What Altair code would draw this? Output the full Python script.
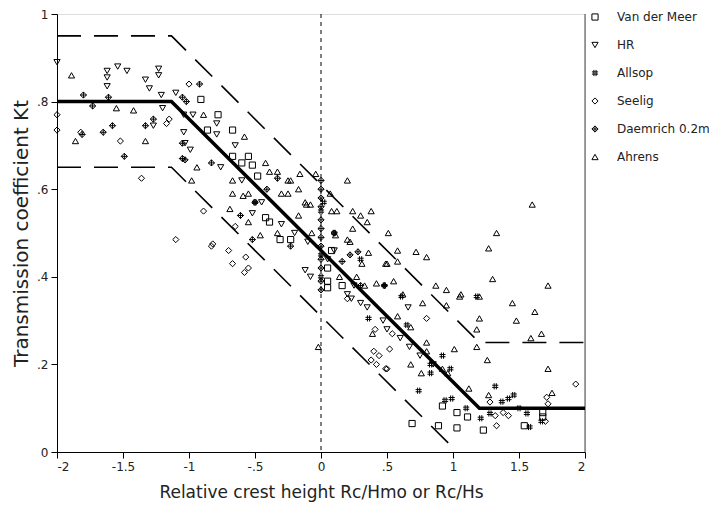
import altair as alt
import pandas as pd

series_names = ["Van der Meer", "HR", "Allsop", "Seelig", "Daemrich 0.2m", "Ahrens"]
series_shapes = [
    "square",
    "triangle-down",
    "M-0.35,-1L-0.35,1M0.35,-1L0.35,1M-1,-0.35L1,-0.35M-1,0.35L1,0.35",
    "diamond",
    "M0,-1L1,0L0,1L-1,0ZM-1,0L1,0M0,-1L0,1",
    "triangle-up",
]

vdm_x = [-0.91, -0.78, -0.86, -0.67, -0.67, -0.55, -0.60, -0.52, -0.48, -0.42, -0.39, -0.31, -0.23,
         0.05, 0.05, 0.05, 0.16, 0.08, 0.92, 1.03, 1.11, 0.89, 1.03, 1.23, 1.54, 1.68, 1.68, 0.69]
vdm_y = [0.805, 0.77, 0.735, 0.735, 0.675, 0.675, 0.66, 0.655, 0.63, 0.535, 0.525, 0.485, 0.485,
         0.42, 0.39, 0.375, 0.38, 0.46, 0.105, 0.09, 0.08, 0.06, 0.055, 0.05, 0.06, 0.09, 0.08, 0.065]

hr_x = [-2.0, -1.62, -1.62, -1.62, -1.54, -1.23, -1.23, -1.33, -1.30, -1.21, -1.20, -1.27, -1.04, -0.97,
        -0.79, -0.79, -1.04, -1.03, -0.99, -0.76, -0.65, -0.52, -0.12, -0.08, 0.20, 0.23, 0.66, 0.47,
        0.67, -0.45, -0.30, -0.20, -0.10, 0.05, 0.25, 0.30, 0.35, 0.50, 0.60, 0.75, 0.85, -1.47, -1.10,
        0.10, -0.60]
hr_y = [0.89, 0.87, 0.855, 0.835, 0.88, 0.875, 0.86, 0.85, 0.83, 0.815, 0.785, 0.745, 0.77, 0.77,
        0.75, 0.725, 0.73, 0.705, 0.69, 0.65, 0.70, 0.545, 0.415, 0.40, 0.36, 0.35, 0.33, 0.30,
        0.24, 0.57, 0.52, 0.50, 0.48, 0.44, 0.38, 0.34, 0.33, 0.28, 0.26, 0.22, 0.20, 0.87, 0.82,
        0.46, 0.62]

allsop_x = [0.48, 0.61, 0.92, 0.83, 0.98, 0.83, 0.74, 0.94, 0.99, 1.32, 1.37, 1.42, 1.46, 1.21, 1.56,
            1.58, 1.67, 1.28, 1.18, 0.36, 0.65, 0.0, 0.0, 0.0, 0.02, -0.50, 0.30, 0.10, 1.10, 1.50]
allsop_y = [0.38, 0.355, 0.22, 0.20, 0.19, 0.18, 0.14, 0.118, 0.122, 0.15, 0.115, 0.122, 0.13, 0.077,
            0.088, 0.057, 0.07, 0.088, 0.355, 0.305, 0.29, 0.55, 0.45, 0.40, 0.57, 0.57, 0.44, 0.50,
            0.10, 0.10]

seelig_x = [-2.0, -2.0, -1.82, -1.52, -1.36, -1.0, -1.15, -1.17, -0.89, -0.65, -0.83, -0.70, -0.57,
            -0.55, -0.58, -0.82, -0.67, -1.10, 0.41, 0.50, 0.54, 0.52, 0.49, 0.80, 1.93, 1.28, 1.32,
            1.38, 1.42, 1.33, 1.71, 1.72, 1.70, 0.38, 0.42, 0.44, 0.40, 0.20]
seelig_y = [0.77, 0.735, 0.73, 0.71, 0.625, 0.84, 0.76, 0.75, 0.55, 0.515, 0.47, 0.46, 0.445,
            0.42, 0.41, 0.475, 0.43, 0.485, 0.28, 0.19, 0.27, 0.235, 0.19, 0.305, 0.155, 0.114, 0.083,
            0.09, 0.083, 0.06, 0.125, 0.11, 0.07, 0.21, 0.20, 0.22, 0.23, 0.35]

daem_x = [-1.80, -1.73, -1.61, -1.81, -1.65, -1.58, -1.49, -1.33, -1.27, -1.05, -1.02, -0.92, -1.05,
          -1.05, -1.03, -0.83, -0.61, -0.50, -0.41, -0.33, -0.23, -0.52, 0.28, 0.48, 0.10, 0.16, 0.22,
          0.0, 0.0, 0.0, 0.0, 0.0, 0.0, 0.0, 0.0, 0.0, 0.0, 0.0, 0.0, 0.30]
daem_y = [0.815, 0.79, 0.81, 0.725, 0.73, 0.745, 0.675, 0.745, 0.76, 0.81, 0.80, 0.84, 0.705,
          0.67, 0.667, 0.66, 0.54, 0.57, 0.60, 0.625, 0.47, 0.485, 0.457, 0.38, 0.50, 0.435, 0.45,
          0.62, 0.60, 0.58, 0.56, 0.53, 0.51, 0.49, 0.47, 0.44, 0.42, 0.39, 0.37, 0.38]

ahrens_x = [-1.89, -1.55, -1.42, -1.86, -1.33, -0.89, -0.94, -0.98, -0.58, -0.67, -0.67, -0.59, -0.69,
            -0.42, -0.39, -0.33, -0.23, -0.17, -0.16, -0.04, -0.30, -0.25, -0.11, -0.17, -0.55, -0.46,
            -0.33, -0.07, 0.20, 0.07, -0.12, -0.08, 0.08, 0.12, 0.24, 0.30, 0.38, 0.35, 0.24, 0.51,
            0.11, 0.20, 0.22, 0.36, 0.58, 0.72, 0.80, 0.49, 0.58, 0.31, 0.14, 0.27, 0.33, 0.42, 0.55,
            0.87, 0.95, 1.60, 1.33, 1.27, 1.30, 1.72, 1.06, 1.20, 1.45, 1.62, 1.48, 1.20, 1.18, 1.67,
            1.59, 1.18, 1.26, 1.72, 0.62, 0.77, 0.95, 1.05, 0.58, 0.68, 0.80, 0.80, 1.01, 0.76, 0.92,
            0.96, 1.12, 1.27, 1.75, 0.68, -0.02, 0.39, 0.50, -0.55, -0.25]
ahrens_y = [0.86, 0.785, 0.78, 0.71, 0.71, 0.77, 0.65, 0.62, 0.72, 0.62, 0.59, 0.585, 0.555,
            0.66, 0.64, 0.64, 0.62, 0.60, 0.635, 0.635, 0.59, 0.59, 0.565, 0.54, 0.525, 0.495,
            0.50, 0.50, 0.62, 0.59, 0.57, 0.565, 0.55, 0.55, 0.55, 0.54, 0.55, 0.525, 0.51, 0.50,
            0.495, 0.485, 0.48, 0.455, 0.46, 0.457, 0.445, 0.43, 0.435, 0.43, 0.40, 0.40, 0.38, 0.385, 0.39,
            0.38, 0.37, 0.565, 0.50, 0.465, 0.395, 0.38, 0.36, 0.355, 0.34, 0.32, 0.30, 0.305, 0.28, 0.27,
            0.26, 0.24, 0.21, 0.19, 0.36, 0.34, 0.335, 0.355, 0.31, 0.285, 0.25, 0.23, 0.235, 0.18, 0.19,
            0.18, 0.145, 0.13, 0.135, 0.20, 0.24, 0.27, 0.43, 0.59, 0.62]

mean_x = [-2.0, -1.133, 1.2, 2.0]
mean_y = [0.8, 0.8, 0.1, 0.1]
upper_x = [-2.0, -1.133, 1.2, 2.0]
upper_y = [0.95, 0.95, 0.25, 0.25]
lower_x = [-2.0, -1.133, 1.033]
lower_y = [0.65, 0.65, 0.0]

rows = []
for name, xs, ys in zip(series_names,
                        [vdm_x, hr_x, allsop_x, seelig_x, daem_x, ahrens_x],
                        [vdm_y, hr_y, allsop_y, seelig_y, daem_y, ahrens_y]):
    for a, b in zip(xs, ys):
        rows.append({"series": name, "rc": a, "kt": b})
pts = pd.DataFrame(rows)

FONT = "DejaVu Sans"
xscale = alt.Scale(domain=[-2, 2], nice=False, zero=False)
yscale = alt.Scale(domain=[0, 1], nice=False, zero=False)

label_expr = ("datum.value == 0 ? '0' : (datum.value < 0 ? '-' : '') + "
              "replace(format(abs(datum.value), '~g'), '0.', '.')")

xaxis = alt.Axis(values=[-2, -1.5, -1, -0.5, 0, 0.5, 1, 1.5, 2], labelExpr=label_expr,
                 title="Relative crest height Rc/Hmo or Rc/Hs", grid=False,
                 domainColor="black", tickColor="black", tickSize=6, labelPadding=3,
                 labelFontSize=12, labelColor="#222", titleFontSize=17, titleFontWeight="normal",
                 titleColor="#222", titlePadding=12, labelFont=FONT, titleFont=FONT)
yaxis = alt.Axis(values=[0, 0.2, 0.4, 0.6, 0.8, 1], labelExpr=label_expr,
                 title="Transmission coefficient Kt", grid=False,
                 domainColor="black", tickColor="black", tickSize=6, labelPadding=3,
                 labelFontSize=12, labelColor="#222", titleFontSize=20, titleFontWeight="normal",
                 titleColor="#222", titlePadding=5, labelFont=FONT, titleFont=FONT)

legend = alt.Legend(title=None, orient="none", legendX=532, legendY=-3, padding=0, rowPadding=16,
                    labelFontSize=12, labelFont=FONT, labelColor="#222", labelOffset=16,
                    symbolSize=38, symbolStrokeColor="black", symbolFillColor="transparent",
                    symbolStrokeWidth=1)

points = alt.Chart(pts).mark_point(filled=False, strokeWidth=1, size=38, opacity=1).encode(
    x=alt.X("rc:Q", scale=xscale, axis=xaxis),
    y=alt.Y("kt:Q", scale=yscale, axis=yaxis),
    shape=alt.Shape("series:N", scale=alt.Scale(domain=series_names, range=series_shapes),
                    legend=legend),
    color=alt.value("black"),
)

mean_df = pd.DataFrame({"rc": mean_x, "kt": mean_y})
upper_df = pd.DataFrame({"rc": upper_x, "kt": upper_y})
lower_df = pd.DataFrame({"rc": lower_x, "kt": lower_y})

mean_line = alt.Chart(mean_df).mark_line(color="black", strokeWidth=3.5).encode(
    x=alt.X("rc:Q", scale=xscale), y=alt.Y("kt:Q", scale=yscale))
upper_line = alt.Chart(upper_df).mark_line(color="black", strokeWidth=1.6, strokeDash=[24, 13]).encode(
    x=alt.X("rc:Q", scale=xscale), y=alt.Y("kt:Q", scale=yscale))
lower_line = alt.Chart(lower_df).mark_line(color="black", strokeWidth=1.6, strokeDash=[24, 13]).encode(
    x=alt.X("rc:Q", scale=xscale), y=alt.Y("kt:Q", scale=yscale))

zero_line = alt.Chart(pd.DataFrame({"rc": [0.0]})).mark_rule(
    color="black", strokeWidth=1, strokeDash=[4, 4]).encode(
    x=alt.X("rc:Q", scale=xscale))
right_border = alt.Chart(pd.DataFrame({"rc": [2.0]})).mark_rule(
    color="#444", strokeWidth=1).encode(x=alt.X("rc:Q", scale=xscale))

chart = alt.layer(zero_line, right_border, upper_line, lower_line, mean_line, points).properties(
    width=528, height=438,
    autosize=alt.AutoSizeParams(type="none"),
    padding={"left": 49, "top": 6, "right": 124, "bottom": 52},
).configure_view(stroke=None).configure(background="white")

chart.save("out.html", embed_options={"renderer": "svg", "actions": False})
